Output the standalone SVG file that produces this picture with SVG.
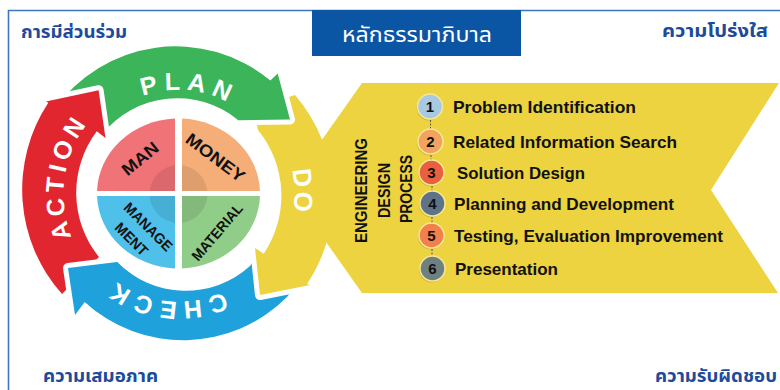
<svg xmlns="http://www.w3.org/2000/svg" xmlns:xlink="http://www.w3.org/1999/xlink" width="780" height="390" viewBox="0 0 780 390">
<style>
.thai{font-family:"Noto Sans Thai","Noto Sans Thai UI","Noto Sans","DejaVu Sans",sans-serif;font-weight:700;fill:#1d4b9b;font-size:17px}
.arr{stroke:#ffffff;stroke-width:10;stroke-linejoin:round;paint-order:stroke}
.arc{font-family:"Liberation Sans",Arial,sans-serif;font-weight:700;fill:#ffffff;text-anchor:middle}
.q{font-family:"Liberation Sans",Arial,sans-serif;font-weight:700;fill:#111111;text-anchor:middle}
.step{font-family:"Liberation Sans",Arial,sans-serif;font-weight:700;fill:#111111;font-size:17px}
.num{font-family:"Liberation Sans",Arial,sans-serif;font-weight:700;fill:#111111;font-size:15px;text-anchor:middle}
.vt{font-family:"Liberation Sans",Arial,sans-serif;font-weight:700;fill:#111111;font-size:17px;text-anchor:middle}
.ring{stroke:#f6e79a;stroke-width:1.5}
.conn{stroke:#5a5a40;stroke-width:1;stroke-dasharray:2 1.5;fill:none}
</style>
<defs>
<path id="arcPlan" d="M 282.5,194 A 104 104 0 1 1 74.5,194 A 104 104 0 1 1 282.5,194"/>
<path id="arcAction" d="M 293.5,194 A 115 115 0 1 1 63.5,194 A 115 115 0 1 1 293.5,194"/>
<path id="arcCheck" d="M 286,194 A 107.5 107.5 0 1 1 71,194 A 107.5 107.5 0 1 1 286,194"/>
<path id="arcDo" d="M 62.5,194 A 116 116 0 1 1 294.5,194 A 116 116 0 1 1 62.5,194"/>
<clipPath id="quadClip">
<path d="M 175,191 L 175,118.6 A 81.5 75 0 0 0 97.05,191 Z"/>
<path d="M 182,191 L 260,191 A 81.5 75 0 0 0 182,118.6 Z"/>
<path d="M 175,196 L 97.05,196 A 81.5 75 0 0 0 175,268.4 Z"/>
<path d="M 182,196 L 182,268.4 A 81.5 75 0 0 0 260,196 Z"/>
</clipPath>
</defs>
<rect width="780" height="390" fill="#ffffff"/>
<g id="frame" fill="none" stroke="#3a78c2" stroke-width="1.6">
<line x1="8" y1="10.5" x2="780" y2="10.5"/>
<line x1="8.5" y1="10" x2="8.5" y2="390"/>
</g>
<g id="title">
<rect x="312" y="10" width="209" height="46" fill="#0b55a5"/>
<text x="417" y="41.5" text-anchor="middle" font-family="'Noto Sans Thai','Noto Sans Thai UI','Noto Sans','DejaVu Sans',sans-serif" font-size="22" font-weight="400" fill="#ffffff" textLength="150" lengthAdjust="spacingAndGlyphs">หลักธรรมาภิบาล</text>
</g>
<g id="label-participation"><text class="thai" x="21" y="38" textLength="106" lengthAdjust="spacingAndGlyphs">การมีส่วนร่วม</text></g>
<g id="label-transparency"><text class="thai" x="662" y="37" textLength="106" lengthAdjust="spacingAndGlyphs">ความโปร่งใส</text></g>
<g id="label-equality"><text class="thai" x="43" y="381.5" textLength="115" lengthAdjust="spacingAndGlyphs">ความเสมอภาค</text></g>
<g id="label-accountability"><text class="thai" x="655" y="382" textLength="122" lengthAdjust="spacingAndGlyphs">ความรับผิดชอบ</text></g>

<g id="check-arrow"><path class="arr" fill="#1fa2db" d="M 287,297 A 146 146 0 0 1 84.7,301.9 L 75,315 L 68,268 L 117,262 A 96 96 0 0 0 250,266 L 258,254 L 297,284 Z"/></g>
<g id="do-arrow"><path class="arr" fill="#ecd33f" d="M 295,95 L 280,100 L 255,116 L 258,130 A 104 104 0 0 1 263.7,253.7 L 255,248 L 260,295 L 310,285 L 307.1,284.1 A 157 157 0 0 0 295,95 Z"/></g>
<g id="process-chevron"><path fill="#ecd33f" d="M 288,188 L 362,83 L 779,83 L 711,190 L 778,293 L 362,293 Z"/></g>
<g id="plan-arrow"><path class="arr" fill="#3cb45a" d="M 54.1,110.1 A 148 148 0 0 1 270.4,80.5 L 277.7,73.6 L 290,119.5 L 238.3,120.2 A 96 96 0 0 0 102.1,134.3 Z"/></g>
<g id="action-arrow"><path class="arr" fill="#e2262f" d="M 62,294 A 157 157 0 0 1 48.3,102.8 L 46,101.5 L 98.6,90.2 L 105.5,138 L 96.8,131.3 A 102 102 0 0 0 99,257 Z"/></g>
<g id="check-head">
<polyline points="84.7,301.9 75,315 68,268 117,262" fill="none" stroke="#ffffff" stroke-width="10" stroke-linejoin="round"/>
<path fill="#1fa2db" d="M 84.7,301.9 L 75,315 L 68,268 L 117,262 A 93 93 0 0 0 132,274.5 L 102.7,315.3 A 143 143 0 0 1 84.7,301.9 Z"/>
</g>

<g id="arc-labels">
<text class="arc" font-size="25" letter-spacing="6.3"><textPath href="#arcPlan" startOffset="76.53%">PLAN</textPath></text>
<text class="arc" font-size="25" letter-spacing="4.4"><textPath href="#arcAction" startOffset="52.36%">ACTION</textPath></text>
<text class="arc" font-size="25" letter-spacing="5.9"><textPath href="#arcCheck" startOffset="26.84%">CHECK</textPath></text>
<text class="arc" font-size="26" letter-spacing="3"><textPath href="#arcDo" startOffset="49.71%">DO</textPath></text>
</g>

<g id="quad-man"><path fill="#f07377" d="M 175,191 L 175,118.6 A 81.5 75 0 0 0 97.05,191 Z"/></g>
<g id="quad-money"><path fill="#f5ae78" d="M 182,191 L 260,191 A 81.5 75 0 0 0 182,118.6 Z"/></g>
<g id="quad-management"><path fill="#4fc0ea" d="M 175,196 L 97.05,196 A 81.5 75 0 0 0 175,268.4 Z"/></g>
<g id="quad-material"><path fill="#90cd88" d="M 182,196 L 182,268.4 A 81.5 75 0 0 0 260,196 Z"/></g>
<circle cx="178.5" cy="194" r="29" fill="#000000" fill-opacity="0.09" clip-path="url(#quadClip)"/>
<g id="quad-labels">
<text class="q" font-size="17" transform="translate(140,158.5) rotate(-39)" y="6" textLength="42" lengthAdjust="spacingAndGlyphs">MAN</text>
<text class="q" font-size="17" transform="translate(215.5,157.5) rotate(37)" y="6" textLength="69" lengthAdjust="spacingAndGlyphs">MONEY</text>
<text class="q" font-size="14.5" transform="translate(148.3,226.7) rotate(45)" y="5.2" textLength="62" lengthAdjust="spacingAndGlyphs">MANAGE</text>
<text class="q" font-size="14.5" transform="translate(148.3,226.7) rotate(45)" x="-3" y="25.7" textLength="40" lengthAdjust="spacingAndGlyphs">MENT</text>
<text class="q" font-size="14.5" transform="translate(217,232) rotate(-49.5)" y="5.2" textLength="70" lengthAdjust="spacingAndGlyphs">MATERIAL</text>
</g>

<g id="process-title">
<text class="vt" transform="translate(367,190.5) rotate(-90)" textLength="105" lengthAdjust="spacingAndGlyphs">ENGINEERING</text>
<text class="vt" transform="translate(390,190.5) rotate(-90)" textLength="55" lengthAdjust="spacingAndGlyphs">DESIGN</text>
<text class="vt" transform="translate(412,189) rotate(-90)" textLength="68" lengthAdjust="spacingAndGlyphs">PROCESS</text>
</g>

<g id="connectors">
<line class="conn" x1="430.5" y1="120" x2="430.5" y2="129"/>
<line class="conn" x1="431" y1="155" x2="431" y2="160"/>
<line class="conn" x1="432" y1="186" x2="432" y2="191"/>
<line class="conn" x1="432" y1="217" x2="432" y2="223"/>
<line class="conn" x1="432" y1="249" x2="432" y2="256"/>
</g>

<g id="step-1"><circle cx="429" cy="108" r="12.5" fill="#000" fill-opacity="0.12"/><circle class="ring" cx="430" cy="106.5" r="12.5" fill="#a8c9e2"/><text class="num" x="430" y="112">1</text><text class="step" x="453" y="112.5" textLength="183" lengthAdjust="spacingAndGlyphs">Problem Identification</text></g>
<g id="step-2"><circle cx="429.5" cy="143" r="12.5" fill="#000" fill-opacity="0.12"/><circle class="ring" cx="430.5" cy="141.5" r="12.5" fill="#f3a35e"/><text class="num" x="430.5" y="147">2</text><text class="step" x="453" y="148" textLength="224" lengthAdjust="spacingAndGlyphs">Related Information Search</text></g>
<g id="step-3"><circle cx="430.5" cy="174" r="12.5" fill="#000" fill-opacity="0.12"/><circle class="ring" cx="431.5" cy="172.5" r="12.5" fill="#e9603e"/><text class="num" x="431.5" y="178">3</text><text class="step" x="457" y="179" textLength="128" lengthAdjust="spacingAndGlyphs">Solution Design</text></g>
<g id="step-4"><circle cx="431.5" cy="205" r="12.5" fill="#000" fill-opacity="0.12"/><circle class="ring" cx="432.5" cy="203.5" r="12.5" fill="#5e7387"/><text class="num" x="432.5" y="209">4</text><text class="step" x="454" y="210" textLength="220" lengthAdjust="spacingAndGlyphs">Planning and Development</text></g>
<g id="step-5"><circle cx="430.5" cy="237" r="12.5" fill="#000" fill-opacity="0.12"/><circle class="ring" cx="431.5" cy="235.5" r="12.5" fill="#f2804c"/><text class="num" x="431.5" y="241">5</text><text class="step" x="454" y="242" textLength="269" lengthAdjust="spacingAndGlyphs">Testing, Evaluation Improvement</text></g>
<g id="step-6"><circle cx="431.5" cy="270" r="12.5" fill="#000" fill-opacity="0.12"/><circle class="ring" cx="432.5" cy="268.5" r="12.5" fill="#6e807f"/><text class="num" x="432.5" y="274">6</text><text class="step" x="455" y="275" textLength="103" lengthAdjust="spacingAndGlyphs">Presentation</text></g>
</svg>
